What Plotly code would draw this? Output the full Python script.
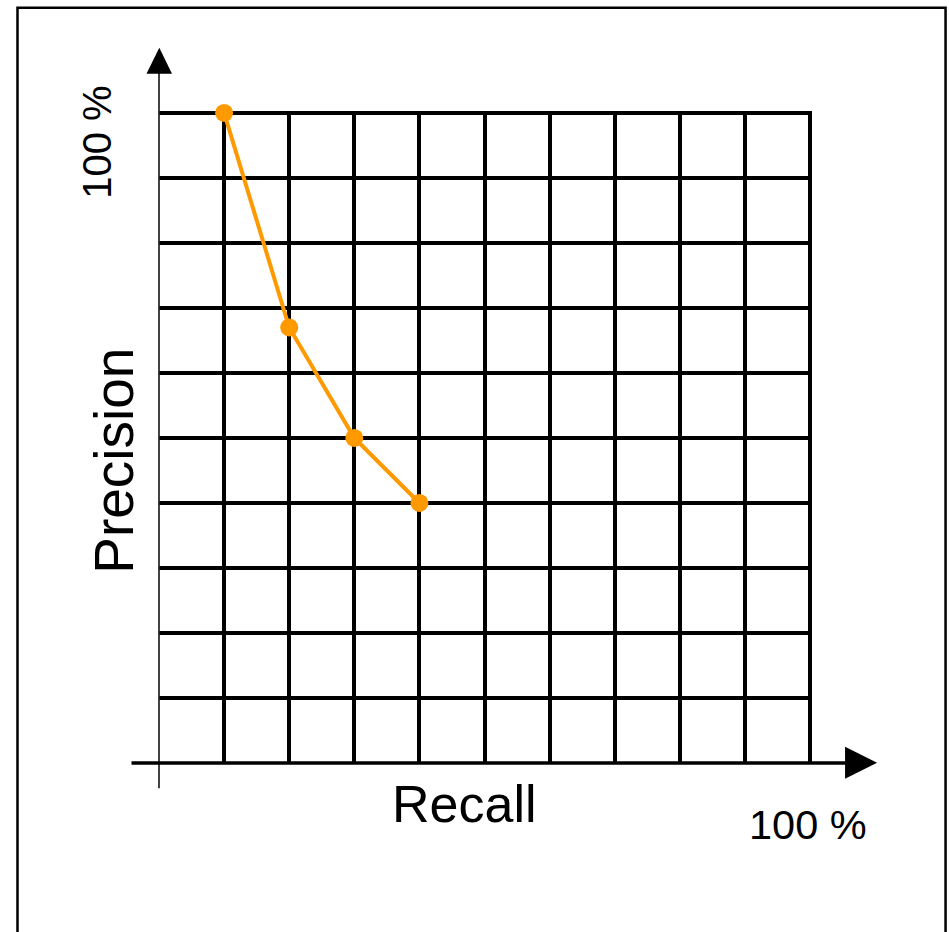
import plotly.graph_objects as go

# ---- data ----
recall = [10, 20, 30, 40]
precision = [100, 67, 50, 40]
grid_ticks = [10, 20, 30, 40, 50, 60, 70, 80, 90, 100]
x_title = "Recall"
y_title = "Precision"
max_label = "100 %"

# ---- layout geometry (page pixels) ----
OFF = 0                      # body margin removed via post_script
W, H = 949, 932
L_PAGE, R_PAGE = 159, 810    # page px of value 0 and 100 on x
T_PAGE, B_PAGE = 112.7, 762.7  # page px of value 100 and 0 on y
AX_MAX = 100.3               # tiny headroom so the 100 gridline is kept
L = L_PAGE - OFF
PW = (R_PAGE - L_PAGE) * AX_MAX / 100
PH = (B_PAGE - T_PAGE) * AX_MAX / 100
T = B_PAGE - OFF - PH
R = W - L - PW
B = H - T - PH


def px(xp):
    return (xp - OFF - L) / PW


def py(yp):
    return 1 - (yp - OFF - T) / PH


FONT = "Liberation Sans, Arial, sans-serif"
ORANGE = "#FF9900"

fig = go.Figure()
fig.add_trace(go.Scatter(
    x=recall, y=precision, mode="lines+markers",
    line=dict(color=ORANGE, width=4),
    marker=dict(color=ORANGE, size=18),
    cliponaxis=False, showlegend=False, hoverinfo="skip",
))

shapes = []
# outer frame
shapes.append(dict(type="path", xref="paper", yref="paper",
                   path=f"M {px(17.5)},{py(960)} L {px(17.5)},{py(7.5)} L {px(945.5)},{py(7.5)} L {px(945.5)},{py(960)}",
                   line=dict(color="black", width=2.5)))
# y axis line + arrow
shapes.append(dict(type="line", xref="paper", yref="paper",
                   x0=px(159), x1=px(159), y0=py(788), y1=py(72),
                   line=dict(color="#222222", width=1.7)))
shapes.append(dict(type="path", xref="paper", yref="paper",
                   path=f"M {px(146.5)},{py(73.5)} L {px(172)},{py(73.5)} L {px(159.3)},{py(47.5)} Z",
                   fillcolor="black", line=dict(color="black", width=0)))
# x axis line + arrow
shapes.append(dict(type="line", xref="paper", yref="paper",
                   x0=px(131.5), x1=px(846), y0=py(762.7), y1=py(762.7),
                   line=dict(color="black", width=3.5)))
shapes.append(dict(type="path", xref="paper", yref="paper",
                   path=f"M {px(845)},{py(746.5)} L {px(845)},{py(778.5)} L {px(877)},{py(762.5)} Z",
                   fillcolor="black", line=dict(color="black", width=0)))

annotations = [
    dict(text=x_title, x=px(464), y=py(804), xref="paper", yref="paper",
         showarrow=False, xanchor="center", yanchor="middle",
         font=dict(family=FONT, size=52, color="black")),
    dict(text=max_label, x=px(808), y=py(824), xref="paper", yref="paper",
         showarrow=False, xanchor="center", yanchor="middle",
         font=dict(family=FONT, size=41.5, color="black")),
    dict(text=max_label, x=px(97.5), y=py(142), xref="paper", yref="paper",
         showarrow=False, xanchor="center", yanchor="middle", textangle=-90,
         font=dict(family=FONT, size=40, color="black")),
    dict(text=y_title, x=px(114.5), y=py(460), xref="paper", yref="paper",
         showarrow=False, xanchor="center", yanchor="middle", textangle=-90,
         font=dict(family=FONT, size=55, color="black")),
]

fig.update_layout(
    width=W, height=H, autosize=False,
    margin=dict(l=L, r=R, t=T, b=B, pad=0),
    paper_bgcolor="white", plot_bgcolor="white",
    shapes=shapes, annotations=annotations,
    showlegend=False,
)
fig.update_xaxes(range=[0, AX_MAX], tickvals=grid_ticks, showticklabels=False,
                 showgrid=True, gridcolor="black", gridwidth=3.5,
                 zeroline=False, showline=False, ticks="", fixedrange=True)
fig.update_yaxes(range=[0, AX_MAX], tickvals=grid_ticks, showticklabels=False,
                 showgrid=True, gridcolor="black", gridwidth=3.5,
                 zeroline=False, showline=False, ticks="", fixedrange=True)

fig.write_html("out.html", config=dict(displayModeBar=False),
               post_script="document.body.style.margin='0';")
